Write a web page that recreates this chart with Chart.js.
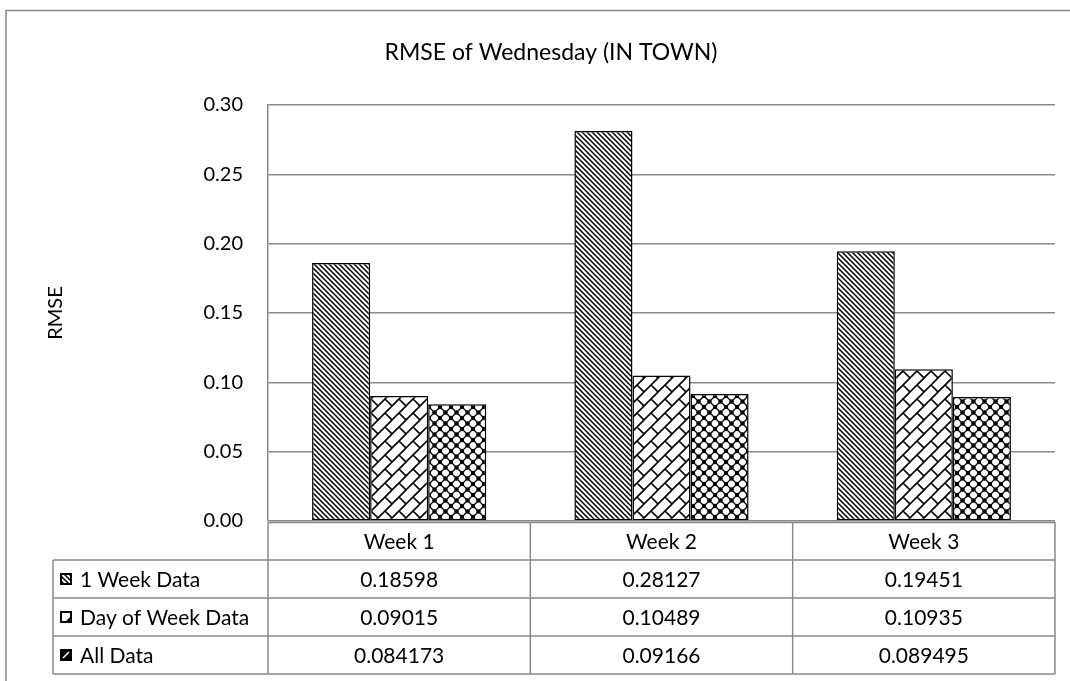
<!DOCTYPE html>
<html>
<head>
<meta charset="utf-8">
<script src="https://cdn.jsdelivr.net/npm/chart.js@4.4.1/dist/chart.umd.min.js"></script>
<style>
  html, body { margin: 0; padding: 0; background: #fff; }
  #wrap { width: 1070px; height: 681px; position: relative; }
</style>
</head>
<body>
<div id="wrap"><canvas id="chart" width="1070" height="681"></canvas></div>
<script>
// ---------------- DATA ----------------
const weeks = ['Week 1', 'Week 2', 'Week 3'];
const seriesNames = ['1 Week Data', 'Day of Week Data', 'All Data'];
const oneWeekData = [0.18598, 0.28127, 0.19451];
const dayOfWeekData = [0.09015, 0.10489, 0.10935];
const allData = [0.084173, 0.09166, 0.089495];
const yTicks = [0, 0.05, 0.10, 0.15, 0.20, 0.25, 0.30];
const chartTitle = 'RMSE of Wednesday (IN TOWN)';

const FONT = 'Lato';
const LINE = '#898989';

// ---------------- PATTERNS ----------------
function makeTile(size, draw) {
  const c = document.createElement('canvas');
  c.width = size; c.height = size;
  const g = c.getContext('2d');
  g.fillStyle = '#fff';
  g.fillRect(0, 0, size, size);
  draw(g, size);
  return c;
}

const canvas = document.getElementById('chart');
const ctx = canvas.getContext('2d');

// dark downward diagonal
const diagTile = makeTile(5, (g, s) => {
  g.strokeStyle = '#000'; g.lineWidth = 1.5;
  g.beginPath();
  g.moveTo(-2, -2); g.lineTo(s + 2, s + 2);
  g.moveTo(-2, s - 2); g.lineTo(2, s + 2);
  g.moveTo(s - 2, -2); g.lineTo(s + 2, 2);
  g.stroke();
});

// diagonal brick
const brickTile = makeTile(14, (g, s) => {
  g.strokeStyle = '#000'; g.lineWidth = 1.6;
  g.beginPath();
  g.moveTo(-2, s + 2); g.lineTo(s + 2, -2);
  g.moveTo(-2, 2); g.lineTo(2, -2);
  g.moveTo(s - 2, s + 2); g.lineTo(s + 2, s - 2);
  g.moveTo(s / 2, s / 2); g.lineTo(s + 2, s + 2);
  g.moveTo(-2, -2); g.lineTo(0, 0);
  g.stroke();
});

// sphere / lattice
const sphereTile = makeTile(11, (g, s) => {
  g.strokeStyle = '#000'; g.lineWidth = 1.3;
  g.beginPath();
  g.moveTo(-1, -1); g.lineTo(s + 1, s + 1);
  g.moveTo(-1, s + 1); g.lineTo(s + 1, -1);
  g.stroke();
  g.fillStyle = '#000';
  [[0, 0], [s, 0], [0, s], [s, s], [s / 2, s / 2]].forEach(p => {
    g.beginPath(); g.arc(p[0], p[1], 2.2, 0, Math.PI * 2); g.fill();
  });
});

const patterns = [diagTile, brickTile, sphereTile].map(t => ctx.createPattern(t, 'repeat'));
const seriesData = [oneWeekData, dayOfWeekData, allData];

// ---------------- PLUGINS ----------------
const frame = {
  id: 'frame',
  beforeDraw(chart) {
    const c = chart.ctx;
    c.save();
    c.strokeStyle = LINE; c.lineWidth = 1.5;
    c.strokeRect(6, 10.5, 1100, 700);
    c.fillStyle = '#000';
    c.font = '23px ' + FONT;
    c.textAlign = 'center';
    c.textBaseline = 'middle';
    c.fillText(chartTitle, 551, 53);
    c.restore();
  }
};

function drawKey(c, idx, x, y) {
  const s = 12;
  c.save();
  c.fillStyle = '#fff';
  c.fillRect(x, y, s, s);
  c.fillStyle = '#000';
  if (idx === 0) {
    c.fillStyle = patterns[0];
    c.fillRect(x, y, s, s);
  } else if (idx === 1) {
    c.beginPath();
    c.moveTo(x + s, y + 4); c.lineTo(x + s, y + s); c.lineTo(x + 4, y + s);
    c.closePath(); c.fill();
  } else {
    c.fillRect(x, y, s, s);
    c.strokeStyle = '#fff'; c.lineWidth = 1.6;
    c.beginPath(); c.moveTo(x + 3, y + s - 3); c.lineTo(x + s - 3, y + 3); c.stroke();
  }
  c.strokeStyle = '#000';
  c.lineWidth = 2;
  c.strokeRect(x + 1, y + 1, s - 2, s - 2);
  c.restore();
}

const dataTable = {
  id: 'dataTable',
  afterDraw(chart) {
    const c = chart.ctx;
    const a = chart.chartArea;
    const colW = (a.right - a.left) / weeks.length;
    const headTop = a.bottom + 1.5;
    const headH = 37.5;
    const rowH = 38;
    const leftX = 53;
    const bottom = headTop + headH + rowH * seriesNames.length;

    c.save();
    c.strokeStyle = LINE; c.lineWidth = 1.5;
    c.beginPath();
    c.moveTo(a.left, headTop); c.lineTo(a.right, headTop);
    for (let i = 0; i <= weeks.length; i++) {
      const x = a.left + colW * i;
      c.moveTo(x, headTop); c.lineTo(x, bottom);
    }
    for (let r = 0; r <= seriesNames.length; r++) {
      const y = headTop + headH + rowH * r;
      c.moveTo(leftX, y); c.lineTo(a.right, y);
    }
    c.moveTo(leftX, headTop + headH); c.lineTo(leftX, bottom);
    c.stroke();

    c.fillStyle = '#000';
    c.font = '21px ' + FONT;
    c.textBaseline = 'middle';
    c.textAlign = 'center';
    weeks.forEach((w, i) => {
      c.fillText(w, chart.scales.x.getPixelForValue(i), headTop + headH / 2 + 1);
    });
    seriesNames.forEach((name, r) => {
      const yMid = headTop + headH + rowH * r + rowH / 2 + 1;
      drawKey(c, r, leftX + 7, yMid - 7);
      c.textAlign = 'left';
      c.fillText(name, leftX + 27, yMid);
      c.textAlign = 'center';
      seriesData[r].forEach((v, i) => {
        c.fillText(String(v), chart.scales.x.getPixelForValue(i), yMid);
      });
    });
    c.restore();
  }
};

// ---------------- CHART ----------------
new Chart(ctx, {
  type: 'bar',
  data: {
    labels: weeks,
    datasets: seriesNames.map((name, i) => ({
      label: name,
      data: seriesData[i],
      backgroundColor: patterns[i],
      borderColor: '#000',
      borderWidth: 1.5,
      borderSkipped: false
    }))
  },
  options: {
    responsive: false,
    animation: false,
    layout: { padding: { left: 0, right: 15, top: 105, bottom: 160 } },
    datasets: { bar: { categoryPercentage: 0.664, barPercentage: 1 } },
    plugins: {
      legend: { display: false },
      tooltip: { enabled: false },
      title: { display: false }
    },
    scales: {
      x: { display: false },
      y: {
        min: 0,
        max: 0.3,
        afterBuildTicks: s => { s.ticks = yTicks.map(v => ({ value: v })); },
        afterFit: s => { s.width = 268; },
        ticks: {
          callback: v => v.toFixed(2),
          padding: 25,
          color: '#000',
          font: { family: FONT, size: 20 }
        },
        grid: { color: LINE, lineWidth: 1.5, drawTicks: false },
        border: { color: LINE, width: 1.5 },
        title: {
          display: true,
          text: 'RMSE',
          color: '#000',
          font: { family: FONT, size: 20 },
          padding: { top: 44 }
        }
      }
    }
  },
  plugins: [frame, dataTable]
});
</script>
</body>
</html>
